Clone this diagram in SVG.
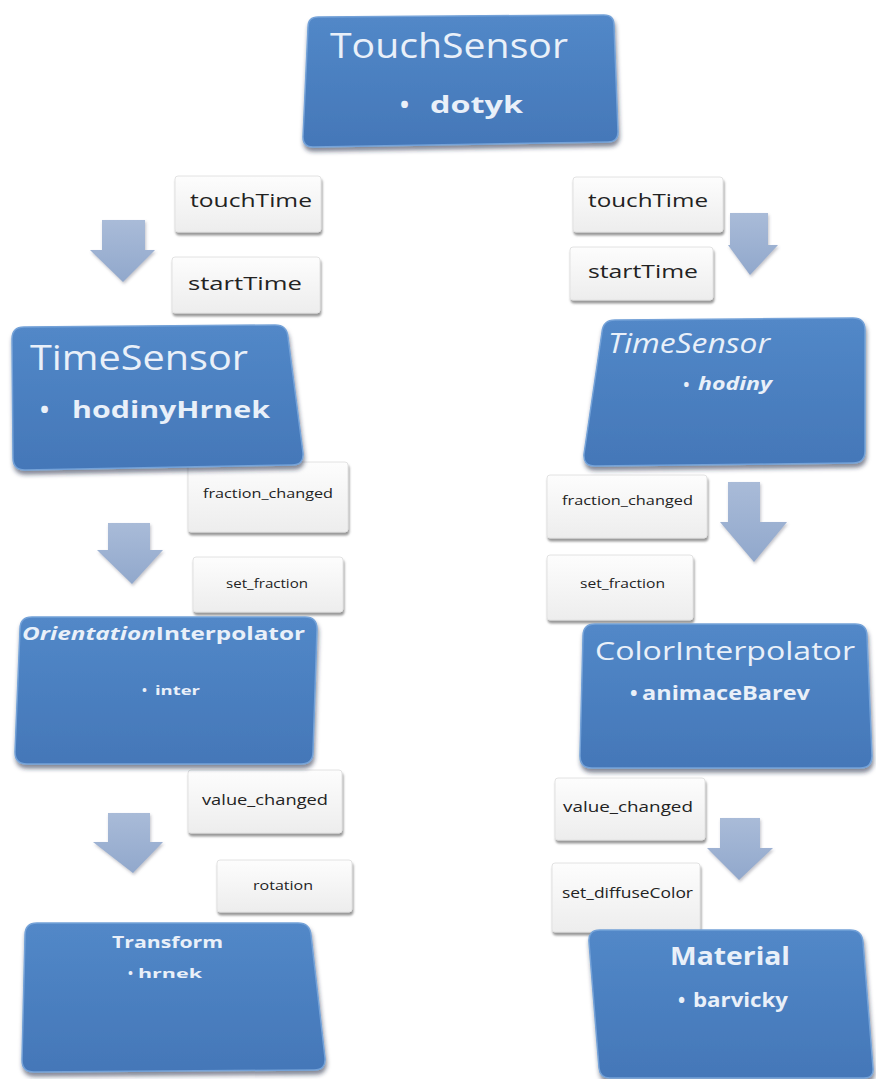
<svg xmlns="http://www.w3.org/2000/svg" width="876" height="1079" viewBox="0 0 876 1079">
<style>
.node{fill:url(#ng);stroke:#74a2d8;stroke-width:1.5;filter:url(#ns)}
.lbl{fill:url(#lg);stroke:#e2e2e2;stroke-width:1;filter:url(#ls)}
.arr{fill:url(#ag);filter:url(#as)}
.t{font-family:"Open Sans","Liberation Sans",sans-serif;fill:#e9f0f9}
.b{font-weight:bold}
.i{font-style:italic}
.l{font-family:"Open Sans","Liberation Sans",sans-serif;fill:#222}
</style>
<defs>
<linearGradient id="ng" x1="0" y1="0" x2="0" y2="1"><stop offset="0" stop-color="#5288c8"/><stop offset="1" stop-color="#4477b8"/></linearGradient>
<linearGradient id="lg" x1="0" y1="0" x2="0" y2="1"><stop offset="0" stop-color="#fdfdfd"/><stop offset="1" stop-color="#ededed"/></linearGradient>
<linearGradient id="ag" x1="0" y1="0" x2="0" y2="1"><stop offset="0" stop-color="#a9bbd8"/><stop offset="1" stop-color="#91a8cc"/></linearGradient>
<filter id="ns" x="-10%" y="-10%" width="120%" height="130%"><feDropShadow dx="1" dy="4" stdDeviation="2" flood-color="#1c2c44" flood-opacity="0.55"/></filter>
<filter id="ls" x="-10%" y="-10%" width="120%" height="140%"><feDropShadow dx="1" dy="3" stdDeviation="1.2" flood-color="#555" flood-opacity="0.6"/></filter>
<filter id="as" x="-20%" y="-20%" width="140%" height="140%"><feDropShadow dx="1" dy="2" stdDeviation="1.5" flood-color="#667" flood-opacity="0.4"/></filter>
</defs>
<rect width="876" height="1079" fill="#ffffff"/>

<g id="connectors">
<g id="conn-left-1">
<rect class="lbl" x="175" y="176" width="146" height="56" rx="3"/>
<text class="l" x="190" y="207" font-size="19" textLength="122" lengthAdjust="spacingAndGlyphs">touchTime</text>
<rect class="lbl" x="172" y="257" width="148" height="56" rx="3"/>
<text class="l" x="188" y="290" font-size="19" textLength="114" lengthAdjust="spacingAndGlyphs">startTime</text>
<path class="arr" d="M102,220 L145,220 L145,250 L155,250 L123,282 L90,250 L102,250 Z"/>
</g>
<g id="conn-right-1">
<rect class="lbl" x="573" y="177" width="150" height="55" rx="3"/>
<text class="l" x="588" y="207" font-size="19" textLength="120" lengthAdjust="spacingAndGlyphs">touchTime</text>
<rect class="lbl" x="570" y="247" width="143" height="53" rx="3"/>
<text class="l" x="588" y="278" font-size="19" textLength="110" lengthAdjust="spacingAndGlyphs">startTime</text>
<path class="arr" d="M730,213 L768,213 L768,245 L778,245 L750,275 L728,245 L730,245 Z"/>
</g>
<g id="conn-left-2">
<rect class="lbl" x="188" y="462" width="160" height="70" rx="3"/>
<text class="l" x="203" y="498" font-size="13" textLength="130" lengthAdjust="spacingAndGlyphs">fraction_changed</text>
<rect class="lbl" x="193" y="557" width="150" height="55" rx="3"/>
<text class="l" x="226" y="588" font-size="12" textLength="82" lengthAdjust="spacingAndGlyphs">set_fraction</text>
<path class="arr" d="M108,523 L150,523 L150,550 L163,550 L132,584 L97,550 L108,550 Z"/>
</g>
<g id="conn-right-2">
<rect class="lbl" x="547" y="475" width="160" height="63" rx="3"/>
<text class="l" x="562" y="505" font-size="13" textLength="131" lengthAdjust="spacingAndGlyphs">fraction_changed</text>
<rect class="lbl" x="547" y="555" width="146" height="65" rx="3"/>
<text class="l" x="580" y="588" font-size="12" textLength="85" lengthAdjust="spacingAndGlyphs">set_fraction</text>
<path class="arr" d="M728,482 L760,482 L760,522 L787,522 L754,562 L720,522 L728,522 Z"/>
</g>
<g id="conn-left-3">
<rect class="lbl" x="188" y="770" width="154" height="63" rx="3"/>
<text class="l" x="202" y="805" font-size="15" textLength="126" lengthAdjust="spacingAndGlyphs">value_changed</text>
<rect class="lbl" x="217" y="860" width="135" height="52" rx="3"/>
<text class="l" x="253" y="890" font-size="12" textLength="60" lengthAdjust="spacingAndGlyphs">rotation</text>
<path class="arr" d="M108,813 L150,813 L150,842 L163,842 L133,873 L93,842 L108,842 Z"/>
</g>
<g id="conn-right-3">
<rect class="lbl" x="555" y="778" width="150" height="62" rx="3"/>
<text class="l" x="563" y="812" font-size="15" textLength="130" lengthAdjust="spacingAndGlyphs">value_changed</text>
<rect class="lbl" x="552" y="863" width="148" height="69" rx="3"/>
<text class="l" x="562" y="898" font-size="14" textLength="131" lengthAdjust="spacingAndGlyphs">set_diffuseColor</text>
<path class="arr" d="M720,818 L760,818 L760,848 L773,848 L739,880 L707,848 L720,848 Z"/>
</g>
</g>

<g id="node-touchsensor">
<path class="node" d="M318,17 L604,15 Q614,15 614,25 L618,132 Q618,142 608,142 L313,147 Q303,147 303,137 L308,27 Q308,17 318,17 Z"/>
<text class="t" x="330" y="58" font-size="35" textLength="238" lengthAdjust="spacingAndGlyphs">TouchSensor</text>
<text class="t b" x="400" y="113" font-size="24">•</text>
<text class="t b" x="430" y="113" font-size="24" textLength="93" lengthAdjust="spacingAndGlyphs">dotyk</text>
</g>

<g id="node-timesensor-left">
<path class="node" d="M24,327 L275,325 Q287,325 288,337 L303,453 Q304,465 292,465 L25,470 Q13,470 13,458 L12,339 Q12,327 24,327 Z"/>
<text class="t" x="30" y="370" font-size="35" textLength="218" lengthAdjust="spacingAndGlyphs">TimeSensor</text>
<text class="t b" x="40" y="418" font-size="24">•</text>
<text class="t b" x="72" y="418" font-size="23" textLength="198" lengthAdjust="spacingAndGlyphs">hodinyHrnek</text>
</g>

<g id="node-timesensor-right">
<path class="node" d="M615,320 L853,318 Q865,318 865,330 L865,451 Q865,463 853,463 L595,466 Q583,466 584,454 L602,332 Q603,320 615,320 Z"/>
<text class="t i" x="608" y="353" font-size="28" textLength="162" lengthAdjust="spacingAndGlyphs">TimeSensor</text>
<text class="t b i" x="683" y="390" font-size="16">•</text>
<text class="t b i" x="698" y="390" font-size="17" textLength="74" lengthAdjust="spacingAndGlyphs">hodiny</text>
</g>

<g id="node-orientation">
<path class="node" d="M32,617 L305,617 Q317,617 317,629 L313,752 Q313,764 301,764 L27,764 Q15,764 15,752 L20,629 Q20,617 32,617 Z"/>
<text class="t b" x="22" y="640" font-size="18" textLength="283" lengthAdjust="spacingAndGlyphs"><tspan class="i">Orientation</tspan>Interpolator</text>
<text class="t b" x="142" y="695" font-size="13">•</text>
<text class="t b" x="155" y="695" font-size="13" textLength="45" lengthAdjust="spacingAndGlyphs">inter</text>
</g>

<g id="node-colorinterpolator">
<path class="node" d="M595,624 L855,624 Q867,624 867,636 L872,756 Q872,768 860,768 L592,768 Q580,768 580,756 L583,636 Q583,624 595,624 Z"/>
<text class="t" x="595" y="660" font-size="26" textLength="260" lengthAdjust="spacingAndGlyphs">ColorInterpolator</text>
<text class="t b" x="630" y="700" font-size="20">•</text>
<text class="t b" x="642" y="700" font-size="20" textLength="168" lengthAdjust="spacingAndGlyphs">animaceBarev</text>
</g>

<g id="node-transform">
<path class="node" d="M37,923 L298,923 Q310,923 311,935 L325,1058 Q326,1070 314,1070 L34,1072 Q22,1072 22,1060 L25,935 Q25,923 37,923 Z"/>
<text class="t b" x="112" y="948" font-size="16" textLength="111" lengthAdjust="spacingAndGlyphs">Transform</text>
<text class="t b" x="128" y="978" font-size="13">•</text>
<text class="t b" x="138" y="978" font-size="13" textLength="64" lengthAdjust="spacingAndGlyphs">hrnek</text>
</g>

<g id="node-material">
<path class="node" d="M600,930 L850,930 Q862,930 863,942 L873,1068 Q874,1078 864,1078 L610,1078 Q600,1078 599,1068 L589,942 Q588,930 600,930 Z"/>
<text class="t b" x="670" y="965" font-size="25" textLength="120" lengthAdjust="spacingAndGlyphs">Material</text>
<text class="t b" x="678" y="1007" font-size="19">•</text>
<text class="t b" x="693" y="1007" font-size="19" textLength="95" lengthAdjust="spacingAndGlyphs">barvicky</text>
</g>
</svg>
